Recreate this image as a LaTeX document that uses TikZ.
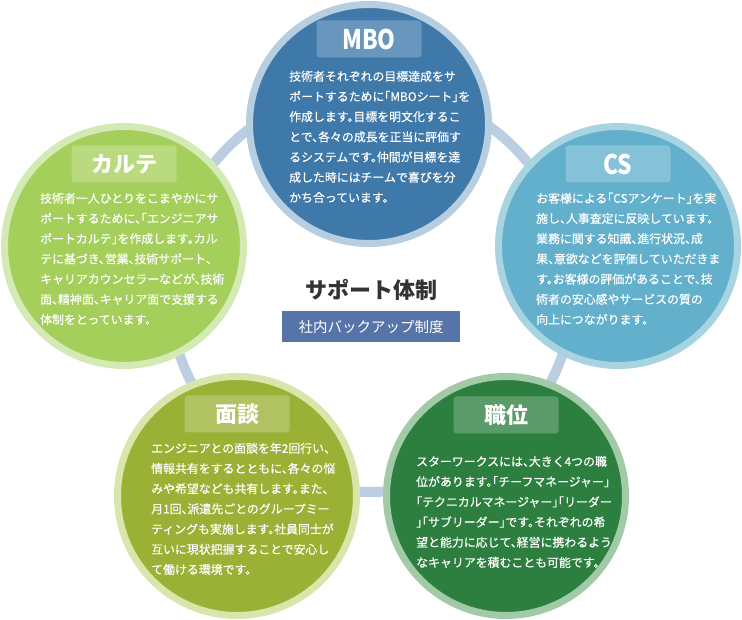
\documentclass[tikz,border=0pt]{standalone}
\usepackage{fontspec}
\usepackage{xcolor}
\usetikzlibrary{positioning}
\newfontfamily\jpfont{Noto Sans CJK JP}
\newfontfamily\jpbody[RawFeature=+halt, FakeBold=0.5]{Noto Sans CJK JP}
\newfontfamily\latinhead[FakeStretch=0.84]{Noto Sans CJK JP}
\definecolor{ringBlue}{HTML}{BCCFE2}
\definecolor{mboFill}{HTML}{3E79AA}
\definecolor{mboRim}{HTML}{B7CDE0}
\definecolor{karteFill}{HTML}{A5CF5B}
\definecolor{karteRim}{HTML}{D4EAB5}
\definecolor{csFill}{HTML}{62B0CC}
\definecolor{csRim}{HTML}{A8D3E1}
\definecolor{mendanFill}{HTML}{9AB136}
\definecolor{mendanRim}{HTML}{D8E6AC}
\definecolor{shokuiFill}{HTML}{2D7F3F}
\definecolor{shokuiRim}{HTML}{A2CAA7}
\definecolor{hubText}{HTML}{333333}
\definecolor{backupBlue}{HTML}{5774A8}
\begin{document}
\begin{tikzpicture}[x=1pt,y=1pt,bubble/.style={circle, minimum size=239pt, line width=7pt, inner sep=0pt},tag/.style={rounded corners=3pt, minimum width=105pt, minimum height=37pt, inner sep=0pt, text=white, font=\jpfont\bfseries\fontsize{22}{26}\selectfont},latintag/.style={tag, font=\latinhead\bfseries\fontsize{27}{30}\selectfont},body/.style={anchor=base west, align=left, inner sep=0pt, text=white, font=\jpbody\fontsize{11.9}{20.2}\selectfont}]
\useasboundingbox (0,0) rectangle (742,620);
\node[font=\jpfont\bfseries\fontsize{22}{26}\selectfont, text=hubText] (hub) at (371,330) {サポート体制};
\draw[ringBlue, line width=10pt] (hub.center) circle (202);
\node[fill=backupBlue, minimum width=178pt, minimum height=31pt, inner sep=0pt, text=white, font=\jpfont\fontsize{14.5}{17}\selectfont] (backup) at ([yshift=-37pt]hub.center) {社内バックアップ制度};
\node[bubble, fill=mboFill, draw=mboRim] (mbo) at (369,496) {};
\node[bubble, fill=karteFill, draw=karteRim] (karte) at (124,374) {};
\node[bubble, fill=csFill, draw=csRim] (cs) at (618,374) {};
\node[bubble, fill=mendanFill, draw=mendanRim] (mendan) at (237,124) {};
\node[bubble, fill=shokuiFill, draw=shokuiRim] (shokui) at (506,124) {};
\node[latintag, fill=mboFill!78!white] (mboTag) at ([yshift=85pt]mbo.center) {MBO};
\node[tag, fill=karteFill!78!white] (karteTag) at ([yshift=82pt]karte.center) {カルテ};
\node[latintag, fill=csFill!78!white] (csTag) at ([yshift=82pt]cs.center) {CS};
\node[tag, fill=mendanFill!78!white] (mendanTag) at ([yshift=82pt]mendan.center) {面談};
\node[tag, fill=shokuiFill!78!white] (shokuiTag) at ([yshift=81pt]shokui.center) {職位};
\node[body] (mboText) at ([shift={(-80pt,-78pt)}]mbo.center) {技術者それぞれの目標達成をサ\\ポートするために「MBOシート」を\\作成します。目標を明文化するこ\\とで、各々の成長を正当に評価す\\るシステムです。仲間が目標を達\\成した時にはチームで喜びを分\\かち合っています。};
\node[body] (karteText) at ([shift={(-84pt,-78pt)}]karte.center) {技術者一人ひとりをこまやかにサ\\ポートするために、「エンジニアサ\\ポートカルテ」を作成します。カル\\テに基づき、営業、技術サポート、\\キャリアカウンセラーなどが、技術\\面、精神面、キャリア面で支援する\\体制をとっています。};
\node[body] (csText) at ([shift={(-82pt,-78pt)}]cs.center) {お客様による「CSアンケート」を実\\施し、人事査定に反映しています。\\業務に関する知識、進行状況、成\\果、意欲などを評価していただきま\\す。お客様の評価があることで、技\\術者の安心感やサービスの質の\\向上につながります。};
\node[body] (mendanText) at ([shift={(-86pt,-78pt)}]mendan.center) {エンジニアとの面談を年2回行い、\\情報共有をするとともに、各々の悩\\みや希望なども共有します。また、\\月1回、派遣先ごとのグループミー\\ティングも実施します。社員同士が\\互いに現状把握することで安心し\\て働ける環境です。};
\node[body] (shokuiText) at ([shift={(-90pt,-71pt)}]shokui.center) {スターワークスには、大きく4つの職\\位があります。「チーフマネージャー」\\「テクニカルマネージャー」「リーダー\\」「サブリーダー」です。それぞれの希\\望と能力に応じて、経営に携わるよう\\なキャリアを積むことも可能です。};
\end{tikzpicture}
\end{document}
